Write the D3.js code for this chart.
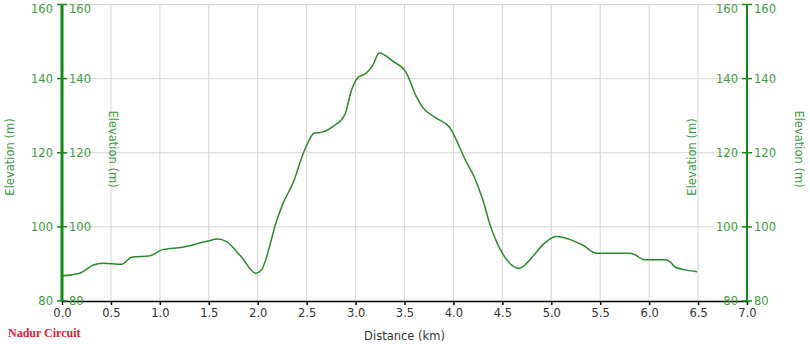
<!DOCTYPE html>
<html>
<head>
<meta charset="utf-8">
<script src="https://cdn.jsdelivr.net/npm/d3@7"></script>
<style>
  body { margin: 0; background: #fff; }
  svg { display: block; }
  .tick-lbl { font-family: "DejaVu Sans", Verdana, sans-serif; font-size: 11.5px; fill: #3c9c3c; }
  .x-lbl { font-family: "DejaVu Sans", Verdana, sans-serif; font-size: 11.5px; fill: #333; }
  .label { font-family: "DejaVu Sans", Verdana, sans-serif; font-size: 11.5px; }
</style>
</head>
<body>
<div id="plot"></div>
<script>
// elevation profile
var distances = [0.00, 0.18, 0.32, 0.42, 0.61, 0.71, 0.90, 1.02, 1.23, 1.48, 1.59, 1.68, 1.83, 1.98, 2.04,
  2.07, 2.19, 2.26, 2.36, 2.48, 2.58, 2.65, 2.77, 2.89, 2.96, 3.02, 3.11, 3.18, 3.24, 3.38, 3.52,
  3.62, 3.69, 3.82, 3.96, 4.13, 4.21, 4.30, 4.38, 4.50, 4.67, 4.81, 4.88, 4.95, 5.05, 5.22, 5.32,
  5.46, 5.80, 5.86, 5.95, 6.17, 6.22, 6.27, 6.37, 6.49];
var elevations = [86.8, 87.5, 89.7, 90.2, 89.9, 91.8, 92.2, 93.8, 94.5, 96.1, 96.7, 96.0, 92.0, 87.5, 88.4,
  90.2, 101.4, 106.4, 111.8, 120.8, 125.3, 125.5, 127.1, 130.3, 137.0, 140.2, 141.5, 143.8, 146.9, 144.7, 141.5,
  135.2, 132.1, 129.4, 126.9, 117.6, 113.6, 107.3, 100.1, 92.9, 88.8, 92.0, 94.2, 96.0, 97.4, 96.3, 95.1,
  92.9, 92.9, 92.4, 91.1, 91.1, 90.4, 89.1, 88.4, 87.9];
var xTicks = [0, 0.5, 1, 1.5, 2, 2.5, 3, 3.5, 4, 4.5, 5, 5.5, 6, 6.5, 7];
var yTicks = [80, 100, 120, 140, 160];
var title = "Nadur Circuit";

var W = 810, H = 344;
var plotL = 62, plotR = 747, plotT = 4.5, plotB = 301;

var x = d3.scaleLinear().domain([0, 7]).range([plotL, plotR]);
var y = d3.scaleLinear().domain([80, 160]).range([plotB, plotT]);

var svg = d3.select("#plot").append("svg")
  .attr("width", W)
  .attr("height", H);

// grid
svg.append("g").selectAll("line")
  .data(xTicks.filter(function(d) { return d > 0 && d < 7; }))
  .enter().append("line")
  .attr("x1", function(d) { return x(d); })
  .attr("x2", function(d) { return x(d); })
  .attr("y1", plotT).attr("y2", plotB)
  .attr("stroke", "#d4d4d4").attr("stroke-width", 1);

svg.append("g").selectAll("line")
  .data(yTicks.filter(function(d) { return d > 80; }))
  .enter().append("line")
  .attr("x1", plotL).attr("x2", plotR)
  .attr("y1", function(d) { return y(d); })
  .attr("y2", function(d) { return y(d); })
  .attr("stroke", "#d4d4d4").attr("stroke-width", 1);

// profile
var line = d3.line()
  .x(function(d, i) { return x(distances[i]); })
  .y(function(d) { return y(d); })
  .curve(d3.curveMonotoneX);

svg.append("path")
  .datum(elevations)
  .attr("d", line)
  .attr("fill", "none")
  .attr("stroke", "#2a8a2a")
  .attr("stroke-width", 1.5);

// x axis
var xAxis = svg.append("g")
  .attr("transform", "translate(0," + plotB + ")")
  .call(d3.axisBottom(x).tickValues(xTicks).tickFormat(d3.format(".1f")).tickSize(4).tickSizeOuter(0));
xAxis.select(".domain").attr("stroke", "#000").attr("stroke-width", 1.5);
xAxis.selectAll(".tick line").attr("stroke", "#000").attr("stroke-width", 1.5);
xAxis.selectAll(".tick text").attr("class", "x-lbl").attr("dy", "0.9em").attr("y", 6);

svg.append("text")
  .attr("class", "label")
  .attr("x", (plotL + plotR) / 2)
  .attr("y", 340)
  .attr("text-anchor", "middle")
  .attr("fill", "#333")
  .text("Distance (km)");

// vertical axes, each with labels on both sides
function yAxisAt(px, width) {
  var g = svg.append("g");
  g.append("line")
    .attr("x1", px).attr("x2", px)
    .attr("y1", plotT).attr("y2", plotB)
    .attr("stroke", "#138a13").attr("stroke-width", width);
  var t = g.selectAll(".yt").data(yTicks).enter().append("g")
    .attr("transform", function(d) { return "translate(" + px + "," + y(d) + ")"; });
  t.append("line").attr("x1", -5).attr("x2", 5)
    .attr("stroke", "#138a13").attr("stroke-width", 1.5);
  // the top label is pushed down to stay inside the picture
  var dy = function(d) { return d === 160 ? "0.7em" : "0.35em"; };
  t.append("text").attr("class", "tick-lbl")
    .attr("x", -9).attr("dy", dy).attr("text-anchor", "end")
    .text(function(d) { return d; });
  t.append("text").attr("class", "tick-lbl")
    .attr("x", 7).attr("dy", dy).attr("text-anchor", "start")
    .text(function(d) { return d; });
}
yAxisAt(plotL, 3);
yAxisAt(plotR, 2);

function elevLabel(px, py, angle) {
  svg.append("text")
    .attr("class", "label")
    .attr("transform", "translate(" + px + "," + py + ") rotate(" + angle + ")")
    .attr("text-anchor", "middle")
    .attr("dy", "0.35em")
    .attr("fill", "#3c9c3c")
    .text("Elevation (m)");
}
elevLabel(10, 157, -90);
elevLabel(113, 149, 90);
elevLabel(692, 157, -90);
elevLabel(799, 149, 90);

svg.append("text")
  .attr("x", 8)
  .attr("y", 337)
  .attr("font-family", "Liberation Serif, serif")
  .attr("font-weight", "bold")
  .attr("font-size", "12px")
  .attr("fill", "#e0203a")
  .text(title);
</script>
</body>
</html>
